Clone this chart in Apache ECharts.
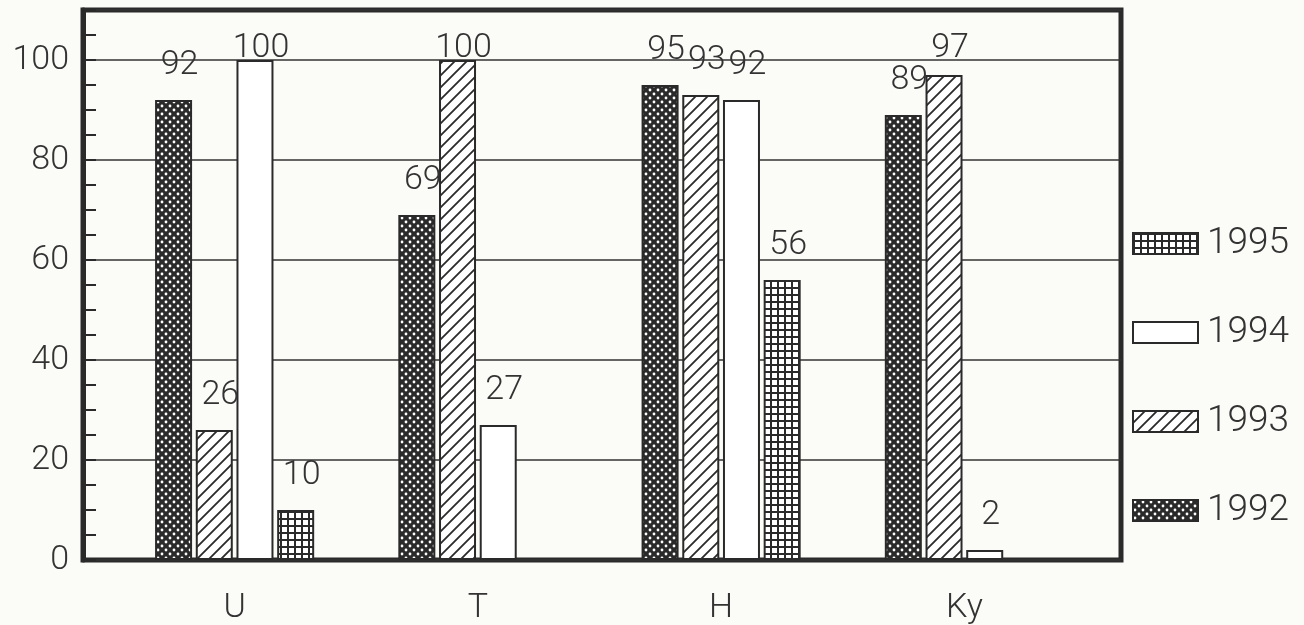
<!DOCTYPE html>
<html>
<head>
<meta charset="utf-8">
<script src="https://cdn.jsdelivr.net/npm/echarts@6/dist/echarts.min.js"></script>
<style>
html,body{margin:0;padding:0;background:#fbfbf7;}
#c{width:1304px;height:625px;}
</style>
</head>
<body>
<div id="c"></div>
<script>
const categories = ['U', 'T', 'H', 'Ky'];
const seriesNames = ['1992', '1993', '1994', '1995'];
const v1992 = [92, 69, 95, 89];
const v1993 = [26, 100, 93, 97];
const v1994 = [100, 27, 92, 2];
const v1995 = [10, null, 56, null];
const yTicks = [0, 20, 40, 60, 80, 100];
const legendOrder = ['1995', '1994', '1993', '1992'];

const INK = '#2a2a2a';
const FONT = "Roboto, 'Liberation Sans', sans-serif";

function makeTile(w, h, draw) {
  const c = document.createElement('canvas');
  c.width = w; c.height = h;
  const g = c.getContext('2d');
  draw(g, w, h);
  return { image: c, repeat: 'repeat' };
}
const pat1992 = makeTile(8, 8, (g, w, h) => {
  g.fillStyle = INK; g.fillRect(0, 0, w, h);
  g.fillStyle = '#ffffff';
  [[2, 2], [6, 6]].forEach(p => { g.beginPath(); g.arc(p[0], p[1], 1.4, 0, Math.PI * 2); g.fill(); });
});
const pat1993 = makeTile(12, 12, (g, w, h) => {
  g.fillStyle = '#ffffff'; g.fillRect(0, 0, w, h);
  g.strokeStyle = INK; g.lineWidth = 1.8;
  g.beginPath();
  g.moveTo(-1, h + 1); g.lineTo(w + 1, -1);
  g.moveTo(-1, 1); g.lineTo(1, -1);
  g.moveTo(w - 1, h + 1); g.lineTo(w + 1, h - 1);
  g.stroke();
});
const pat1995 = makeTile(7, 7, (g, w, h) => {
  g.fillStyle = '#ffffff'; g.fillRect(0, 0, w, h);
  g.fillStyle = INK;
  g.fillRect(0, 0, w, 2);
  g.fillRect(0, 0, 2, h);
});
const fills = { '1992': pat1992, '1993': pat1993, '1994': '#ffffff', '1995': pat1995 };
const values = { '1992': v1992, '1993': v1993, '1994': v1994, '1995': v1995 };

const chart = echarts.init(document.getElementById('c'), null, { renderer: 'canvas' });

const GT = 10, GB = 65;
function buildSeries(offsets) {
  return seriesNames.map((name, si) => ({
    name: name,
    type: 'bar',
    xAxisIndex: 1,
    yAxisIndex: 2,
    barWidth: 37,
    barGap: '10%',
    data: values[name].map((v, i) => (v == null ? null : {
      value: v,
      label: { offset: [6, offsets ? offsets[si][i] : 0] }
    })),
    itemStyle: { color: fills[name], borderColor: INK, borderWidth: 2 },
    label: {
      show: true, position: 'top', distance: 19,
      fontFamily: FONT, fontWeight: 300, fontSize: 34, lineHeight: 32, color: '#333'
    }
  }));
}

const option = {
  backgroundColor: '#fbfbf7',
  animation: false,
  grid: [
    { left: 83, right: 183, top: GT, bottom: GB, show: true, borderColor: INK, borderWidth: 5, backgroundColor: 'transparent' },
    { left: 113, right: 218, top: GT, bottom: GB }
  ],
  xAxis: [
    { gridIndex: 0, type: 'value', show: false, min: 0, max: 1 },
    {
      gridIndex: 1, type: 'category', data: categories,
      axisLine: { show: false }, axisTick: { show: false },
      axisLabel: { fontFamily: FONT, fontWeight: 300, fontSize: 34, lineHeight: 32, color: '#333', margin: 32 }
    }
  ],
  yAxis: [
    {
      gridIndex: 0, type: 'value', position: 'left', min: 0, max: 110, interval: 20,
      axisLine: { show: true, lineStyle: { color: INK, width: 5 } },
      axisTick: { show: false },
      axisLabel: {
        fontFamily: FONT, fontWeight: 300, fontSize: 34, color: '#333', margin: 14,
        showMaxLabel: false,
        formatter: v => (yTicks.indexOf(v) >= 0 ? String(v) : '')
      },
      splitLine: { show: true, lineStyle: { color: '#333', width: 1.5 } }
    },
    {
      gridIndex: 0, type: 'value', position: 'left', offset: 0, min: 0, max: 110, interval: 5,
      axisLine: { show: false },
      axisTick: { show: true, inside: true, length: 13, lineStyle: { color: INK, width: 2 } },
      axisLabel: { show: false },
      splitLine: { show: false }
    },
    { gridIndex: 1, type: 'value', min: 0, max: 110, show: false, splitLine: { show: false } }
  ],
  legend: {
    data: legendOrder,
    orient: 'vertical',
    left: 1127, top: 220,
    itemWidth: 65, itemHeight: 21, itemGap: 52,
    icon: 'rect',
    itemStyle: { borderColor: INK, borderWidth: 2 },
    textStyle: { fontFamily: FONT, fontWeight: 300, fontSize: 37, lineHeight: 34, color: '#333', padding: [0, 0, 0, 4] }
  },
  series: buildSeries(null)
};
chart.setOption(option);

// keep value labels from rising above a ceiling line (as in the original plot)
const ceilY = chart.convertToPixel({ yAxisIndex: 2 }, 100) - 13;
const offsets = seriesNames.map(name => values[name].map(v => {
  if (v == null) return 0;
  const y = chart.convertToPixel({ yAxisIndex: 2 }, v);
  const center = y - 36;
  return center < ceilY ? ceilY - center : 0;
}));
chart.setOption({ series: buildSeries(offsets) });
</script>
</body>
</html>
